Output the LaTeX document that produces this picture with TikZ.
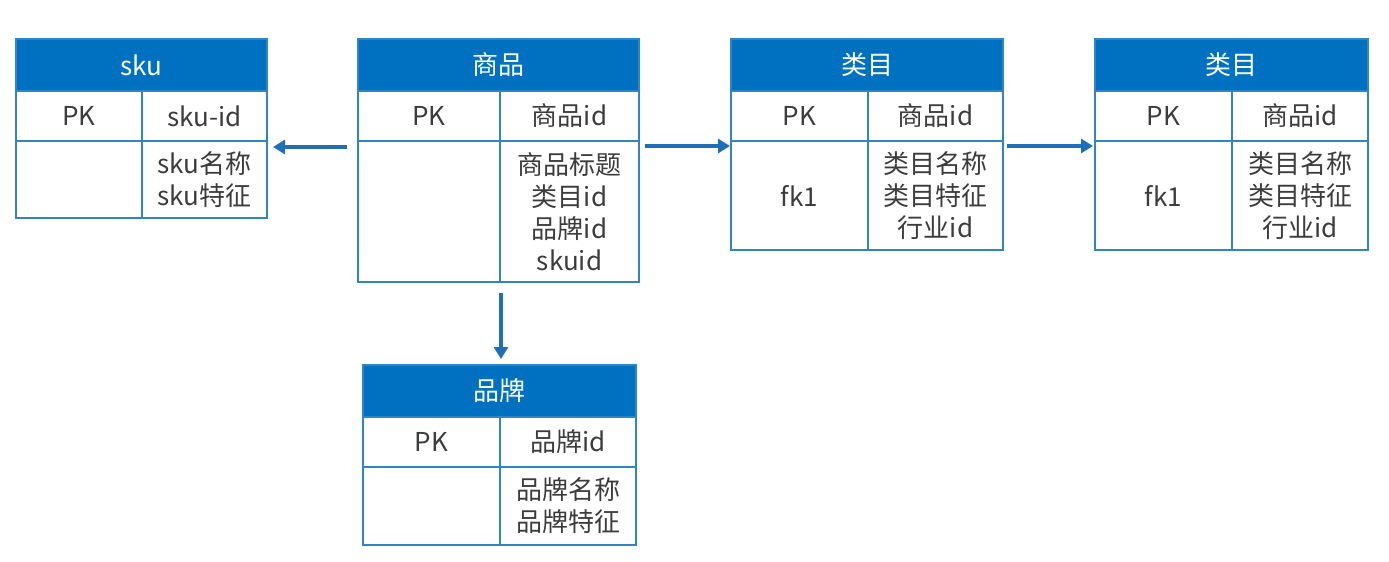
\documentclass[tikz,border=0pt]{standalone}
\usepackage{fontspec}
\setmainfont{Noto Sans CJK SC}
\usetikzlibrary{arrows.meta}
\definecolor{hdrblue}{RGB}{0,112,192}
\definecolor{lineblue}{RGB}{46,134,201}
\definecolor{arrowblue}{RGB}{31,111,184}
\definecolor{txt}{RGB}{60,60,60}
\tikzset{
  hdr/.style={draw=lineblue, fill=hdrblue, line width=1.8pt, outer sep=0pt,
    minimum height=52pt, text=white, inner sep=0pt},
  cell/.style={draw=lineblue, line width=1.8pt, outer sep=0pt, minimum height=50pt,
    text=txt, align=center, inner sep=0pt},
  rel/.style={draw=arrowblue, line width=3.2pt, -{Triangle[length=12pt,width=14pt]}},
}
% #1 name, #2 top-left, #3 left width, #4 right width, #5 body height,
% #6 title, #7 key field, #8 body left, #9 body right
\newcommand\ertab[9]{%
  \node[hdr, minimum width={#3pt+#4pt}, anchor=north west] (#1-h) at #2 {#6};
  \node[cell, minimum width=#3pt, anchor=north west] (#1-pk) at (#1-h.south west) {PK};
  \node[cell, minimum width=#4pt, anchor=north west] (#1-id) at (#1-pk.north east) {#7};
  \node[cell, minimum width=#3pt, minimum height=#5pt, anchor=north west] (#1-bl) at (#1-pk.south west) {#8};
  \node[cell, minimum width=#4pt, minimum height=#5pt, anchor=north west] (#1-br) at (#1-id.south west) {#9};
}
\begin{document}
\begin{tikzpicture}[x=1pt, y=-1pt, font=\fontsize{26}{32}\selectfont]
\useasboundingbox (0,0) rectangle (1389,562);
\ertab{sku}{(16,39)}{126}{125}{77}{sku}{sku-id}{}{sku名称\\sku特征}
\ertab{sp}{(358,39)}{142}{139}{141}{商品}{商品id}{}{商品标题\\类目id\\品牌id\\skuid}
\ertab{lm}{(731,39)}{137}{135}{109}{类目}{商品id}{fk1}{类目名称\\类目特征\\行业id}
\ertab{lmb}{(1095,39)}{137}{136}{109}{类目}{商品id}{fk1}{类目名称\\类目特征\\行业id}
\ertab{pp}{(363,365)}{137}{136}{78}{品牌}{品牌id}{}{品牌名称\\品牌特征}
% relations
\draw[rel, shorten <=11pt, shorten >=6pt] ([yshift=-6pt]sp-pk.south west) -- ([yshift=-6pt]sku-id.south east);
\draw[rel, shorten <=6pt, shorten >=1pt] ([yshift=-5pt]sp-id.south east) -- ([yshift=-5pt]lm-pk.south west);
\draw[rel, shorten <=4pt, shorten >=2pt] ([yshift=-5pt]lm-id.south east) -- ([yshift=-5pt]lmb-pk.south west);
\draw[rel, shorten <=11pt, shorten >=6pt] ([xshift=1pt]sp-bl.south east) -- ([xshift=1pt]pp-pk.north east |- pp-h.north);
\end{tikzpicture}
\end{document}
